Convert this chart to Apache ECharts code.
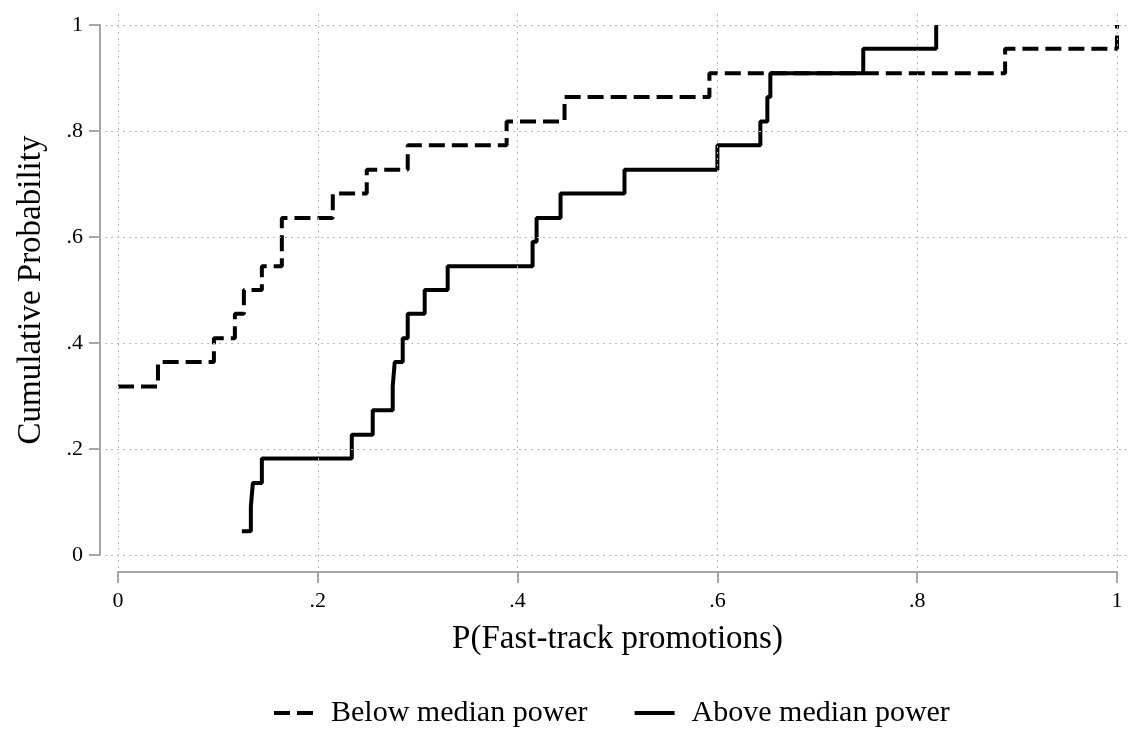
<!DOCTYPE html>
<html>
<head>
<meta charset="utf-8">
<script src="https://cdn.jsdelivr.net/npm/echarts@6/dist/echarts.min.js"></script>
<style>
  html, body { margin: 0; padding: 0; background: #fff; }
  #chart { width: 1141px; height: 742px; }
</style>
</head>
<body>
<div id="chart"></div>
<script>
// data (ECDF steps: x where the curve jumps, level after the jump)
const belowX = [0, 0.040, 0.096, 0.117, 0.126, 0.144, 0.164, 0.215, 0.249, 0.290, 0.389, 0.447, 0.592, 0.888, 1.0];
const belowP = [0.318, 0.364, 0.409, 0.455, 0.5, 0.545, 0.636, 0.682, 0.727, 0.773, 0.818, 0.864, 0.909, 0.955, 1.0];
const aboveX = [0.124, 0.133, 0.135, 0.144, 0.234, 0.255, 0.275, 0.277, 0.285, 0.290, 0.307, 0.330,
                0.415, 0.419, 0.443, 0.507, 0.600, 0.643, 0.650, 0.653, 0.746, 0.819];
const aboveP = [0.045, 0.091, 0.136, 0.182, 0.227, 0.273, 0.318, 0.364, 0.409, 0.455, 0.5, 0.545,
                0.591, 0.636, 0.682, 0.727, 0.773, 0.818, 0.864, 0.909, 0.955, 1.0];
const seriesNames = ['Below median power', 'Above median power'];
const tickValues = [0, 0.2, 0.4, 0.6, 0.8, 1];
const tickLabels = ['0', '.2', '.4', '.6', '.8', '1'];

const font = 'Liberation Serif, Times New Roman, serif';
const axisGrey = '#a6a6a6';
const gridGrey = '#b8b8b8';
const dashed = [16, 7];

// grid lines poke out ~13px past the plot area, like the original
const xExt = 13 / 999;
const yExt = 13 / 530;

const pairs = (xs, ys) => xs.map((x, i) => [x, ys[i]]);

const chartInstance = echarts.init(document.getElementById('chart'));

const axisCommon = {
  type: 'value',
  min: 0,
  max: 1,
  interval: 0.2,
  axisLine: { show: true, onZero: false, lineStyle: { color: axisGrey, width: 2 } },
  axisTick: { show: true, length: 11, lineStyle: { color: axisGrey, width: 2 } },
  splitLine: { show: false },
  nameLocation: 'middle',
  nameTextStyle: { fontFamily: font, fontSize: 33, color: '#000' }
};

const option = {
  animation: false,
  backgroundColor: '#fff',
  grid: [
    { left: 118, right: 24, top: 25, bottom: 187, outerBoundsMode: 'none' },
    { left: 105, right: 11, top: 12, bottom: 174, outerBoundsMode: 'none' }
  ],
  xAxis: [
    {
      ...axisCommon,
      gridIndex: 0,
      offset: 17,
      name: 'P(Fast-track promotions)',
      nameGap: 51,
      axisLabel: {
        fontFamily: font, fontSize: 22, color: '#000', margin: 18,
        formatter: (v, i) => tickLabels[i]
      }
    },
    { type: 'value', gridIndex: 1, min: -xExt, max: 1 + xExt, show: false }
  ],
  yAxis: [
    {
      ...axisCommon,
      gridIndex: 0,
      offset: 18,
      name: 'Cumulative Probability',
      nameGap: 52,
      axisLabel: {
        fontFamily: font, fontSize: 22, color: '#000', margin: 17,
        formatter: (v, i) => tickLabels[i]
      }
    },
    { type: 'value', gridIndex: 1, min: -yExt, max: 1 + yExt, show: false }
  ],
  legend: {
    data: [
      { name: seriesNames[0], itemStyle: { opacity: 0 }, lineStyle: { color: '#000', width: 4, type: dashed, cap: 'butt' } },
      { name: seriesNames[1], itemStyle: { opacity: 0 }, lineStyle: { color: '#000', width: 4, type: 'solid' } }
    ],
    left: 272,
    top: 698,
    padding: 0,
    itemWidth: 40,
    itemHeight: 14,
    itemGap: 45,
    textStyle: { fontFamily: font, fontSize: 30, color: '#000', padding: [0, 0, 0, 12] }
  },
  series: [
    {
      // dotted grid
      type: 'line',
      xAxisIndex: 1,
      yAxisIndex: 1,
      data: [],
      silent: true,
      z: 1,
      markLine: {
        silent: true,
        symbol: 'none',
        label: { show: false },
        lineStyle: { color: gridGrey, width: 1, type: [2, 4] },
        data: [
          ...tickValues.map(v => ({ xAxis: v })),
          ...tickValues.map(v => ({ yAxis: v }))
        ]
      }
    },
    {
      name: seriesNames[0],
      type: 'line',
      step: 'end',
      symbol: 'none',
      z: 3,
      data: pairs(belowX, belowP),
      lineStyle: { color: '#000', width: 4, type: dashed, cap: 'butt' },
      itemStyle: { color: '#000' }
    },
    {
      name: seriesNames[1],
      type: 'line',
      step: 'end',
      symbol: 'none',
      z: 3,
      data: pairs(aboveX, aboveP),
      lineStyle: { color: '#000', width: 4, type: 'solid' },
      itemStyle: { color: '#000' }
    }
  ]
};
chartInstance.setOption(option);
window.addEventListener('resize', () => chartInstance.resize());
</script>
</body>
</html>
